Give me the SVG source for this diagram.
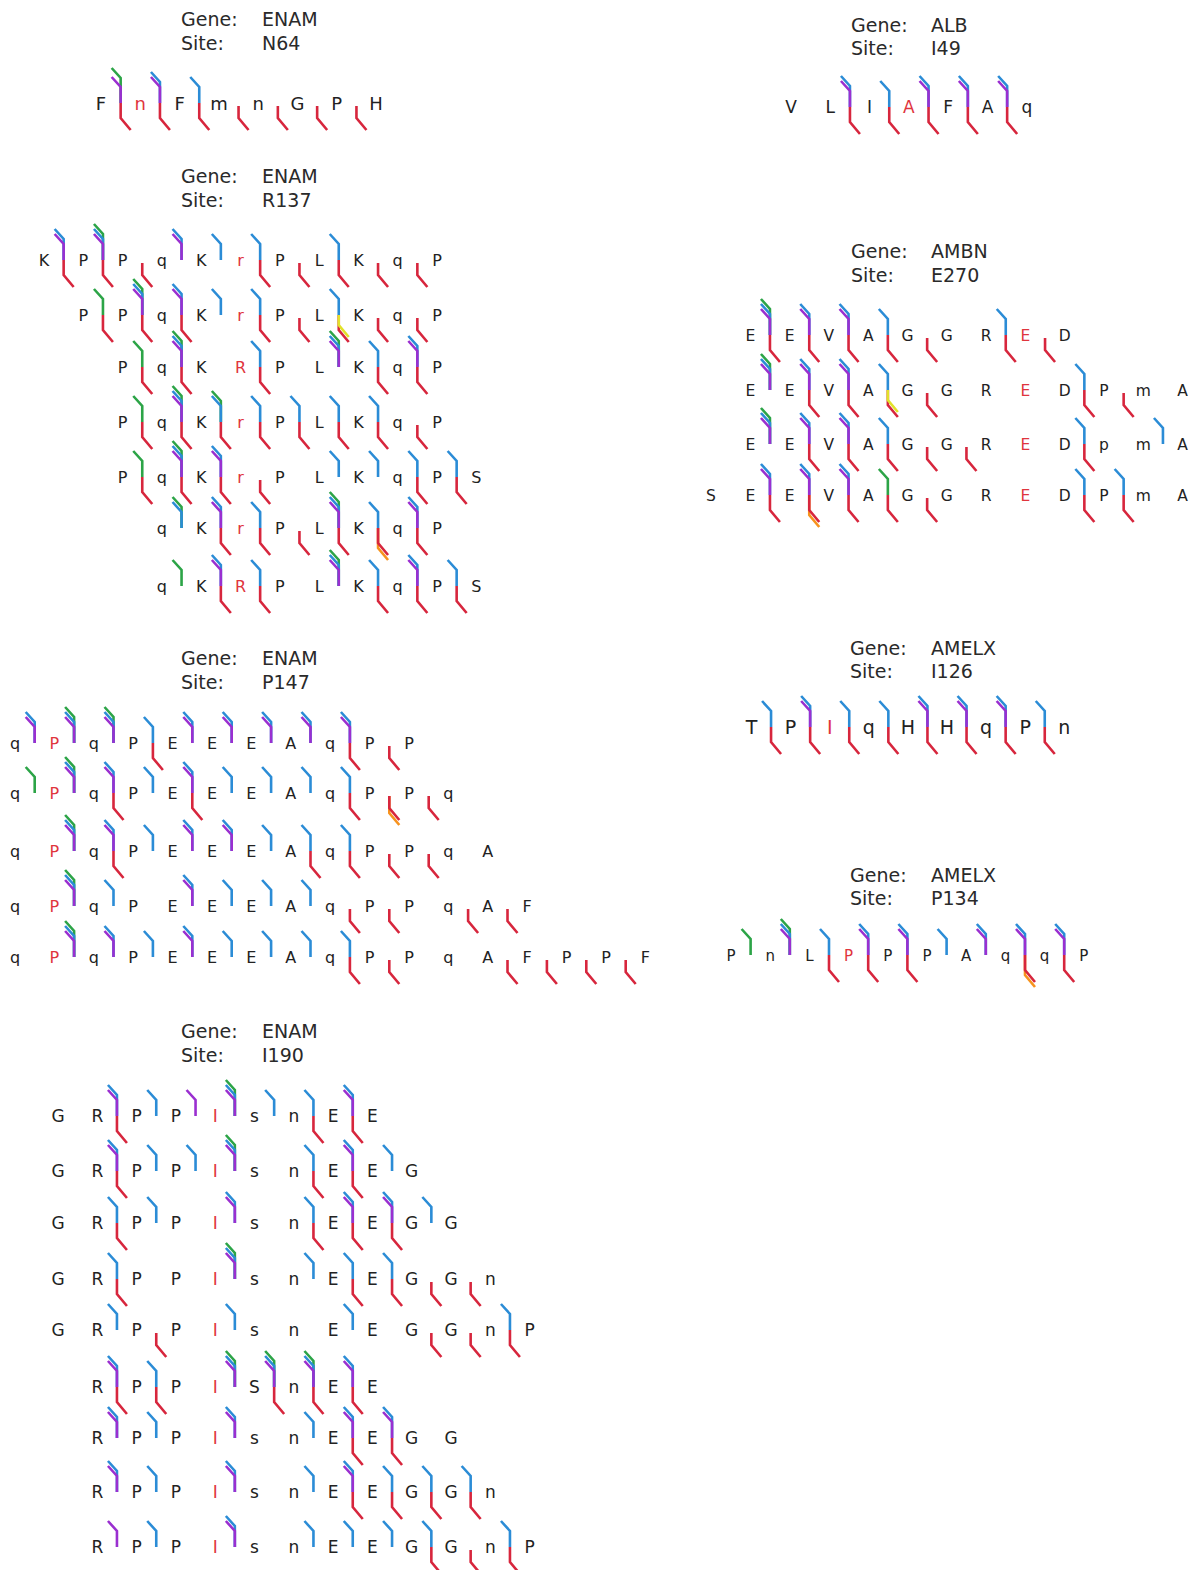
<svg xmlns="http://www.w3.org/2000/svg" xmlns:xlink="http://www.w3.org/1999/xlink" width="1200" height="1570" viewBox="0 0 1200 1570">
<style>
text{font-family:"DejaVu Sans",Verdana,sans-serif;fill:#222;text-anchor:middle}
.hd{font-size:19px;text-anchor:start;fill:#2a2a2a}
.hl{fill:#e0353d}
.gl{fill:none;stroke-width:2.6}
.cr{stroke:#d7263d}.cb{stroke:#2b8cd6}.cp{stroke:#9a2fd0}.cg{stroke:#2ca447}.co{stroke:#f7931e}.cy{stroke:#e2e22a}
</style>
<defs>
<g id="R"><path class="cr" d="M0,3V15l10,12"/></g>
<g id="RO"><path class="co" d="M0,3V20l10,12"/><path class="cr" d="M0,3V15l10,12"/></g>
<g id="B"><path class="cb" d="M0,0V-16l-9,-10"/></g>
<g id="P"><path class="cp" d="M0,0V-16l-9,-10"/></g>
<g id="G"><path class="cg" d="M0,0V-16l-9,-10"/></g>
<g id="BP"><path class="cb" d="M0,0V-21l-9,-10"/><path class="cp" d="M0,0V-16l-9,-10"/></g>
<g id="GB"><path class="cg" d="M0,0V-21l-9,-10"/><path class="cb" d="M0,0V-16l-9,-10"/></g>
<g id="GBP"><path class="cg" d="M0,0V-26l-9,-10"/><path class="cb" d="M0,0V-21l-9,-10"/><path class="cp" d="M0,0V-16l-9,-10"/></g>
<g id="BR"><path class="cb" d="M0,0V-16l-9,-10"/><path class="cr" d="M0,0V15l10,12"/></g>
<g id="GR"><path class="cg" d="M0,0V-16l-9,-10"/><path class="cr" d="M0,0V15l10,12"/></g>
<g id="BPR"><path class="cb" d="M0,0V-21l-9,-10"/><path class="cp" d="M0,0V-16l-9,-10"/><path class="cr" d="M0,0V15l10,12"/></g>
<g id="GBPR"><path class="cg" d="M0,0V-26l-9,-10"/><path class="cb" d="M0,0V-21l-9,-10"/><path class="cp" d="M0,0V-16l-9,-10"/><path class="cr" d="M0,0V15l10,12"/></g>
<g id="GPR"><path class="cg" d="M0,0V-25l-9,-10"/><path class="cp" d="M0,0V-16l-9,-10"/><path class="cr" d="M0,0V15l10,12"/></g>
<g id="GBR"><path class="cg" d="M0,0V-21l-9,-10"/><path class="cb" d="M0,0V-16l-9,-10"/><path class="cr" d="M0,0V15l10,12"/></g>
<g id="BYR"><path class="cb" d="M0,0V-16l-9,-10"/><path class="cr" d="M0,0V15l10,12"/><path class="cy" d="M0,0V10l10,12"/></g>
<g id="BRO"><path class="cb" d="M0,0V-16l-9,-10"/><path class="co" d="M0,0V20l10,12"/><path class="cr" d="M0,0V15l10,12"/></g>
<g id="BPRO"><path class="cb" d="M0,0V-21l-9,-10"/><path class="cp" d="M0,0V-16l-9,-10"/><path class="co" d="M0,0V20l10,12"/><path class="cr" d="M0,0V15l10,12"/></g>
</defs>
<rect width="1200" height="1570" fill="#fff"/>

<g id="enam-n64">
<text class="hd" x="181" y="26">Gene:</text><text class="hd" x="262" y="26">ENAM</text>
<text class="hd" x="181" y="50">Site:</text><text class="hd" x="262" y="50">N64</text>
<text style="font-size:18px" x="101 140.3 179.6 218.9 258.2 297.5 336.8 376.1" y="109.6">F<tspan class="hl">n</tspan>FmnGPH</text>
</g>

<g id="enam-r137">
<text class="hd" x="181" y="183">Gene:</text><text class="hd" x="262" y="183">ENAM</text>
<text class="hd" x="181" y="207">Site:</text><text class="hd" x="262" y="207">R137</text>
<g style="font-size:16px">
<text x="44 83.3 122.6 161.9 201.2 240.5 279.8 319.1 358.4 397.7 437" y="265.8">KPPqK<tspan class="hl">r</tspan>PLKqP</text>
<text x="83.3 122.6 161.9 201.2 240.5 279.8 319.1 358.4 397.7 437" y="320.8">PPqK<tspan class="hl">r</tspan>PLKqP</text>
<text x="122.6 161.9 201.2 240.5 279.8 319.1 358.4 397.7 437" y="372.8">PqK<tspan class="hl">R</tspan>PLKqP</text>
<text x="122.6 161.9 201.2 240.5 279.8 319.1 358.4 397.7 437" y="427.8">PqK<tspan class="hl">r</tspan>PLKqP</text>
<text x="122.6 161.9 201.2 240.5 279.8 319.1 358.4 397.7 437 476.3" y="482.8">PqK<tspan class="hl">r</tspan>PLKqPS</text>
<text x="161.9 201.2 240.5 279.8 319.1 358.4 397.7 437" y="533.8">qK<tspan class="hl">r</tspan>PLKqP</text>
<text x="161.9 201.2 240.5 279.8 319.1 358.4 397.7 437 476.3" y="591.8">qK<tspan class="hl">R</tspan>PLKqPS</text>
</g>
</g>

<g id="enam-p147">
<text class="hd" x="181" y="665">Gene:</text><text class="hd" x="262" y="665">ENAM</text>
<text class="hd" x="181" y="689">Site:</text><text class="hd" x="262" y="689">P147</text>
<g style="font-size:16px">
<text x="15 54.4 93.8 133.2 172.6 212 251.4 290.8 330.2 369.6 409" y="748.8">q<tspan class="hl">P</tspan>qPEEEAqPP</text>
<text x="15 54.4 93.8 133.2 172.6 212 251.4 290.8 330.2 369.6 409 448.4" y="798.8">q<tspan class="hl">P</tspan>qPEEEAqPPq</text>
<text x="15 54.4 93.8 133.2 172.6 212 251.4 290.8 330.2 369.6 409 448.4 487.8" y="856.8">q<tspan class="hl">P</tspan>qPEEEAqPPqA</text>
<text x="15 54.4 93.8 133.2 172.6 212 251.4 290.8 330.2 369.6 409 448.4 487.8 527.2" y="911.8">q<tspan class="hl">P</tspan>qPEEEAqPPqAF</text>
<text x="15 54.4 93.8 133.2 172.6 212 251.4 290.8 330.2 369.6 409 448.4 487.8 527.2 566.6 606 645.4" y="962.8">q<tspan class="hl">P</tspan>qPEEEAqPPqAFPPF</text>
</g>
</g>

<g id="enam-i190">
<text class="hd" x="181" y="1038">Gene:</text><text class="hd" x="262" y="1038">ENAM</text>
<text class="hd" x="181" y="1062">Site:</text><text class="hd" x="262" y="1062">I190</text>
<g style="font-size:17px">
<text x="58 97.3 136.6 175.9 215.2 254.5 293.8 333.1 372.4" y="1122.2">GRPP<tspan class="hl">I</tspan>snEE</text>
<text x="58 97.3 136.6 175.9 215.2 254.5 293.8 333.1 372.4 411.7" y="1177.2">GRPP<tspan class="hl">I</tspan>snEEG</text>
<text x="58 97.3 136.6 175.9 215.2 254.5 293.8 333.1 372.4 411.7 451" y="1229.2">GRPP<tspan class="hl">I</tspan>snEEGG</text>
<text x="58 97.3 136.6 175.9 215.2 254.5 293.8 333.1 372.4 411.7 451 490.3" y="1285.2">GRPP<tspan class="hl">I</tspan>snEEGGn</text>
<text x="58 97.3 136.6 175.9 215.2 254.5 293.8 333.1 372.4 411.7 451 490.3 529.6" y="1336.2">GRPP<tspan class="hl">I</tspan>snEEGGnP</text>
<text x="97.3 136.6 175.9 215.2 254.5 293.8 333.1 372.4" y="1393.2">RPP<tspan class="hl">I</tspan>SnEE</text>
<text x="97.3 136.6 175.9 215.2 254.5 293.8 333.1 372.4 411.7 451" y="1444.2">RPP<tspan class="hl">I</tspan>snEEGG</text>
<text x="97.3 136.6 175.9 215.2 254.5 293.8 333.1 372.4 411.7 451 490.3" y="1498.2">RPP<tspan class="hl">I</tspan>snEEGGn</text>
<text x="97.3 136.6 175.9 215.2 254.5 293.8 333.1 372.4 411.7 451 490.3 529.6" y="1553.2">RPP<tspan class="hl">I</tspan>snEEGGnP</text>
</g>
</g>

<g id="alb-i49">
<text class="hd" x="851" y="32">Gene:</text><text class="hd" x="931" y="32">ALB</text>
<text class="hd" x="851" y="55">Site:</text><text class="hd" x="931" y="55">I49</text>
<text style="font-size:17px" x="791 830.3 869.6 908.9 948.2 987.5 1026.8" y="113.2">VLI<tspan class="hl">A</tspan>FAq</text>
</g>

<g id="ambn-e270">
<text class="hd" x="851" y="258">Gene:</text><text class="hd" x="931" y="258">AMBN</text>
<text class="hd" x="851" y="282">Site:</text><text class="hd" x="931" y="282">E270</text>
<g style="font-size:15.5px">
<text x="750.3 789.6 828.9 868.2 907.5 946.8 986.1 1025.4 1064.7" y="340.7">EEVAGGR<tspan class="hl">E</tspan>D</text>
<text x="750.3 789.6 828.9 868.2 907.5 946.8 986.1 1025.4 1064.7 1104 1143.3 1182.6" y="395.7">EEVAGGR<tspan class="hl">E</tspan>DPmA</text>
<text x="750.3 789.6 828.9 868.2 907.5 946.8 986.1 1025.4 1064.7 1104 1143.3 1182.6" y="449.7">EEVAGGR<tspan class="hl">E</tspan>DpmA</text>
<text x="711 750.3 789.6 828.9 868.2 907.5 946.8 986.1 1025.4 1064.7 1104 1143.3 1182.6" y="500.7">SEEVAGGR<tspan class="hl">E</tspan>DPmA</text>
</g>
</g>

<g id="amelx-i126">
<text class="hd" x="850" y="655">Gene:</text><text class="hd" x="931" y="655">AMELX</text>
<text class="hd" x="850" y="678">Site:</text><text class="hd" x="931" y="678">I126</text>
<text style="font-size:19px" x="751.5 790.6 829.7 868.8 907.9 947 986.1 1025.2 1064.3" y="733.9">TP<tspan class="hl">I</tspan>qHHqPn</text>
</g>

<g id="amelx-p134">
<text class="hd" x="850" y="882">Gene:</text><text class="hd" x="931" y="882">AMELX</text>
<text class="hd" x="850" y="905">Site:</text><text class="hd" x="931" y="905">P134</text>
<text style="font-size:15px" x="731 770.2 809.4 848.6 887.8 927 966.2 1005.4 1044.6 1083.8" y="960.8">PnL<tspan class="hl">P</tspan>PPAqqP</text>
</g>

<g id="connectors" class="gl">
<!-- N64 -->
<use href="#GPR" x="120.65" y="103"/><use href="#BPR" x="159.95" y="103"/><use href="#BR" x="199.25" y="103"/><use href="#R" x="238.55" y="103"/><use href="#R" x="277.85" y="103"/><use href="#R" x="317.15" y="103"/><use href="#R" x="356.45" y="103"/>
<!-- R137 -->
<use href="#BPR" x="63.65" y="260"/><use href="#GBPR" x="102.95" y="260"/><use href="#R" x="142.25" y="260"/><use href="#BP" x="181.55" y="260"/><use href="#B" x="220.85" y="260"/><use href="#BR" x="260.15" y="260"/><use href="#R" x="299.45" y="260"/><use href="#BR" x="338.75" y="260"/><use href="#R" x="378.05" y="260"/><use href="#R" x="417.35" y="260"/>
<use href="#GR" x="102.95" y="315"/><use href="#GBPR" x="142.25" y="315"/><use href="#BPR" x="181.55" y="315"/><use href="#B" x="220.85" y="315"/><use href="#BR" x="260.15" y="315"/><use href="#R" x="299.45" y="315"/><use href="#BYR" x="338.75" y="315"/><use href="#R" x="378.05" y="315"/><use href="#R" x="417.35" y="315"/>
<use href="#GR" x="142.25" y="367"/><use href="#GBPR" x="181.55" y="367"/><use href="#BR" x="260.15" y="367"/><use href="#GBP" x="338.75" y="367"/><use href="#BR" x="378.05" y="367"/><use href="#BPR" x="417.35" y="367"/>
<use href="#GR" x="142.25" y="422"/><use href="#GBPR" x="181.55" y="422"/><use href="#GBR" x="220.85" y="422"/><use href="#BR" x="260.15" y="422"/><use href="#BR" x="299.45" y="422"/><use href="#BR" x="338.75" y="422"/><use href="#BR" x="378.05" y="422"/><use href="#R" x="417.35" y="422"/>
<use href="#GR" x="142.25" y="477"/><use href="#GBPR" x="181.55" y="477"/><use href="#BPR" x="220.85" y="477"/><use href="#R" x="260.15" y="477"/><use href="#B" x="338.75" y="477"/><use href="#B" x="378.05" y="477"/><use href="#BR" x="417.35" y="477"/><use href="#BR" x="456.65" y="477"/>
<use href="#GB" x="181.55" y="528"/><use href="#BPR" x="220.85" y="528"/><use href="#BR" x="260.15" y="528"/><use href="#R" x="299.45" y="528"/><use href="#GBPR" x="338.75" y="528"/><use href="#BRO" x="378.05" y="528"/><use href="#BPR" x="417.35" y="528"/>
<use href="#G" x="181.55" y="586"/><use href="#BPR" x="220.85" y="586"/><use href="#BR" x="260.15" y="586"/><use href="#GBP" x="338.75" y="586"/><use href="#BR" x="378.05" y="586"/><use href="#BPR" x="417.35" y="586"/><use href="#BR" x="456.65" y="586"/>
<!-- P147 -->
<use href="#BP" x="34.7" y="743"/><use href="#GBP" x="74.1" y="743"/><use href="#GBP" x="113.5" y="743"/><use href="#BR" x="152.9" y="743"/><use href="#BP" x="192.3" y="743"/><use href="#BP" x="231.7" y="743"/><use href="#BP" x="271.1" y="743"/><use href="#BP" x="310.5" y="743"/><use href="#BPR" x="349.9" y="743"/><use href="#R" x="389.3" y="743"/>
<use href="#G" x="34.7" y="793"/><use href="#GBP" x="74.1" y="793"/><use href="#BPR" x="113.5" y="793"/><use href="#B" x="152.9" y="793"/><use href="#BPR" x="192.3" y="793"/><use href="#B" x="231.7" y="793"/><use href="#B" x="271.1" y="793"/><use href="#B" x="310.5" y="793"/><use href="#BR" x="349.9" y="793"/><use href="#RO" x="389.3" y="793"/><use href="#R" x="428.7" y="793"/>
<use href="#GBP" x="74.1" y="851"/><use href="#BPR" x="113.5" y="851"/><use href="#B" x="152.9" y="851"/><use href="#BP" x="192.3" y="851"/><use href="#BP" x="231.7" y="851"/><use href="#B" x="271.1" y="851"/><use href="#BR" x="310.5" y="851"/><use href="#BR" x="349.9" y="851"/><use href="#R" x="389.3" y="851"/><use href="#R" x="428.7" y="851"/>
<use href="#GBP" x="74.1" y="906"/><use href="#B" x="113.5" y="906"/><use href="#BP" x="192.3" y="906"/><use href="#B" x="231.7" y="906"/><use href="#B" x="271.1" y="906"/><use href="#B" x="310.5" y="906"/><use href="#R" x="349.9" y="906"/><use href="#R" x="389.3" y="906"/><use href="#R" x="468.1" y="906"/><use href="#R" x="507.5" y="906"/>
<use href="#GBP" x="74.1" y="957"/><use href="#BP" x="113.5" y="957"/><use href="#B" x="152.9" y="957"/><use href="#BP" x="192.3" y="957"/><use href="#B" x="231.7" y="957"/><use href="#B" x="271.1" y="957"/><use href="#B" x="310.5" y="957"/><use href="#BR" x="349.9" y="957"/><use href="#R" x="389.3" y="957"/><use href="#R" x="507.5" y="957"/><use href="#R" x="546.9" y="957"/><use href="#R" x="586.3" y="957"/><use href="#R" x="625.7" y="957"/>
<!-- I190 -->
<use href="#BPR" x="116.95" y="1116"/><use href="#B" x="156.25" y="1116"/><use href="#P" x="195.55" y="1116"/><use href="#GBP" x="234.85" y="1116"/><use href="#B" x="274.15" y="1116"/><use href="#BR" x="313.45" y="1116"/><use href="#BPR" x="352.75" y="1116"/>
<use href="#BPR" x="116.95" y="1171"/><use href="#B" x="156.25" y="1171"/><use href="#B" x="195.55" y="1171"/><use href="#GBP" x="234.85" y="1171"/><use href="#BR" x="313.45" y="1171"/><use href="#BPR" x="352.75" y="1171"/><use href="#B" x="392.05" y="1171"/>
<use href="#BR" x="116.95" y="1223"/><use href="#B" x="156.25" y="1223"/><use href="#BP" x="234.85" y="1223"/><use href="#BR" x="313.45" y="1223"/><use href="#BPR" x="352.75" y="1223"/><use href="#BPR" x="392.05" y="1223"/><use href="#B" x="431.35" y="1223"/>
<use href="#BR" x="116.95" y="1279"/><use href="#GBP" x="234.85" y="1279"/><use href="#B" x="313.45" y="1279"/><use href="#BR" x="352.75" y="1279"/><use href="#BR" x="392.05" y="1279"/><use href="#R" x="431.35" y="1279"/><use href="#R" x="470.65" y="1279"/>
<use href="#B" x="116.95" y="1330"/><use href="#R" x="156.25" y="1330"/><use href="#B" x="234.85" y="1330"/><use href="#B" x="352.75" y="1330"/><use href="#R" x="431.35" y="1330"/><use href="#R" x="470.65" y="1330"/><use href="#BR" x="509.95" y="1330"/>
<use href="#BPR" x="116.95" y="1387"/><use href="#BR" x="156.25" y="1387"/><use href="#GBP" x="234.85" y="1387"/><use href="#GBPR" x="274.15" y="1387"/><use href="#GBPR" x="313.45" y="1387"/><use href="#BPR" x="352.75" y="1387"/>
<use href="#BP" x="116.95" y="1438"/><use href="#B" x="156.25" y="1438"/><use href="#BP" x="234.85" y="1438"/><use href="#B" x="313.45" y="1438"/><use href="#BPR" x="352.75" y="1438"/><use href="#BPR" x="392.05" y="1438"/>
<use href="#BP" x="116.95" y="1492"/><use href="#B" x="156.25" y="1492"/><use href="#BP" x="234.85" y="1492"/><use href="#B" x="313.45" y="1492"/><use href="#BPR" x="352.75" y="1492"/><use href="#BR" x="392.05" y="1492"/><use href="#BR" x="431.35" y="1492"/><use href="#BR" x="470.65" y="1492"/>
<use href="#P" x="116.95" y="1547"/><use href="#B" x="156.25" y="1547"/><use href="#BP" x="234.85" y="1547"/><use href="#B" x="313.45" y="1547"/><use href="#B" x="352.75" y="1547"/><use href="#B" x="392.05" y="1547"/><use href="#BR" x="431.35" y="1547"/><use href="#R" x="470.65" y="1547"/><use href="#BR" x="509.95" y="1547"/>
<!-- ALB -->
<use href="#BPR" x="849.95" y="107"/><use href="#BR" x="889.25" y="107"/><use href="#BPR" x="928.55" y="107"/><use href="#BPR" x="967.85" y="107"/><use href="#BPR" x="1007.15" y="107"/>
<!-- AMBN -->
<use href="#GBPR" x="769.95" y="335"/><use href="#BPR" x="809.25" y="335"/><use href="#BPR" x="848.55" y="335"/><use href="#BR" x="887.85" y="335"/><use href="#R" x="927.15" y="335"/><use href="#BR" x="1005.75" y="335"/><use href="#R" x="1045.05" y="335"/>
<use href="#GBP" x="769.95" y="390"/><use href="#BPR" x="809.25" y="390"/><use href="#BPR" x="848.55" y="390"/><use href="#BYR" x="887.85" y="390"/><use href="#R" x="927.15" y="390"/><use href="#BR" x="1084.35" y="390"/><use href="#R" x="1123.65" y="390"/>
<use href="#GBP" x="769.95" y="444"/><use href="#BPR" x="809.25" y="444"/><use href="#BPR" x="848.55" y="444"/><use href="#BR" x="887.85" y="444"/><use href="#R" x="927.15" y="444"/><use href="#R" x="966.45" y="444"/><use href="#BR" x="1084.35" y="444"/><use href="#B" x="1162.95" y="444"/>
<use href="#BPR" x="769.95" y="495"/><use href="#BPRO" x="809.25" y="495"/><use href="#BPR" x="848.55" y="495"/><use href="#GR" x="887.85" y="495"/><use href="#R" x="927.15" y="495"/><use href="#BR" x="1084.35" y="495"/><use href="#BR" x="1123.65" y="495"/>
<!-- AMELX I126 -->
<use href="#BR" x="771.05" y="727"/><use href="#BPR" x="810.15" y="727"/><use href="#BR" x="849.25" y="727"/><use href="#BR" x="888.35" y="727"/><use href="#BPR" x="927.45" y="727"/><use href="#BPR" x="966.55" y="727"/><use href="#BPR" x="1005.65" y="727"/><use href="#BR" x="1044.75" y="727"/>
<!-- AMELX P134 -->
<use href="#G" x="750.6" y="955"/><use href="#GBP" x="789.8" y="955"/><use href="#BR" x="829" y="955"/><use href="#BPR" x="868.2" y="955"/><use href="#BPR" x="907.4" y="955"/><use href="#B" x="946.6" y="955"/><use href="#BP" x="985.8" y="955"/><use href="#BPRO" x="1025" y="955"/><use href="#BPR" x="1064.2" y="955"/>
</g>
</svg>
